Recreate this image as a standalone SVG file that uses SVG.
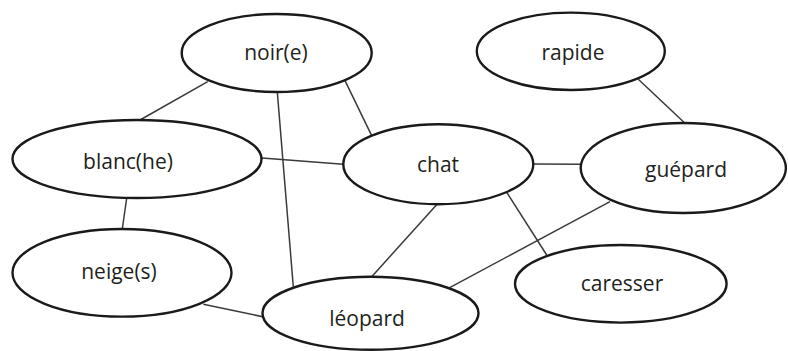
<svg xmlns="http://www.w3.org/2000/svg" width="788" height="351" viewBox="0 0 788 351">
<style>
.n ellipse{fill:#fff;stroke:#1a1a1a;stroke-width:2.4}
.n text{font-family:"Open Sans","Liberation Sans",sans-serif;font-size:21px;fill:#231f20;text-anchor:middle}
.c line{stroke:#3a3a3a;stroke-width:1.5}
</style>
<rect width="788" height="351" fill="#fff"/>
<g class="c" id="connectors">
<line x1="207.7" y1="81.7" x2="140" y2="120"/>
<line x1="277.3" y1="92" x2="293.3" y2="286.7"/>
<line x1="345" y1="80.7" x2="371.7" y2="135.7"/>
<line x1="638.3" y1="79.3" x2="685" y2="123.3"/>
<line x1="262" y1="158" x2="343.3" y2="164.3"/>
<line x1="126.7" y1="198" x2="122.3" y2="229"/>
<line x1="533.3" y1="164" x2="580.7" y2="164.3"/>
<line x1="437.3" y1="204" x2="371.7" y2="276.7"/>
<line x1="506.7" y1="192.3" x2="546.7" y2="255"/>
<line x1="610" y1="201.7" x2="448.3" y2="288.3"/>
<line x1="203.3" y1="304.3" x2="262.7" y2="316.7"/>
</g>
<g class="n" id="noir"><ellipse cx="276.7" cy="53" rx="95" ry="39"/><text x="276" y="60">noir(e)</text></g>
<g class="n" id="rapide"><ellipse cx="570.8" cy="51.3" rx="94" ry="38.7"/><text x="573" y="60">rapide</text></g>
<g class="n" id="blanc"><ellipse cx="137" cy="159" rx="124.5" ry="39"/><text x="128" y="169">blanc(he)</text></g>
<g class="n" id="chat"><ellipse cx="438.3" cy="164.2" rx="95" ry="40"/><text x="438" y="171.5">chat</text></g>
<g class="n" id="guepard"><ellipse cx="683.3" cy="168" rx="102.6" ry="45"/><text x="686" y="176.5">guépard</text></g>
<g class="n" id="neige"><ellipse cx="122" cy="272.8" rx="109.5" ry="43.8"/><text x="119" y="279">neige(s)</text></g>
<g class="n" id="caresser"><ellipse cx="620.8" cy="283.8" rx="105.8" ry="38.8"/><text x="622" y="290.5">caresser</text></g>
<g class="n" id="leopard"><ellipse cx="370.5" cy="313.3" rx="108" ry="36.5"/><text x="367" y="326">léopard</text></g>
</svg>
